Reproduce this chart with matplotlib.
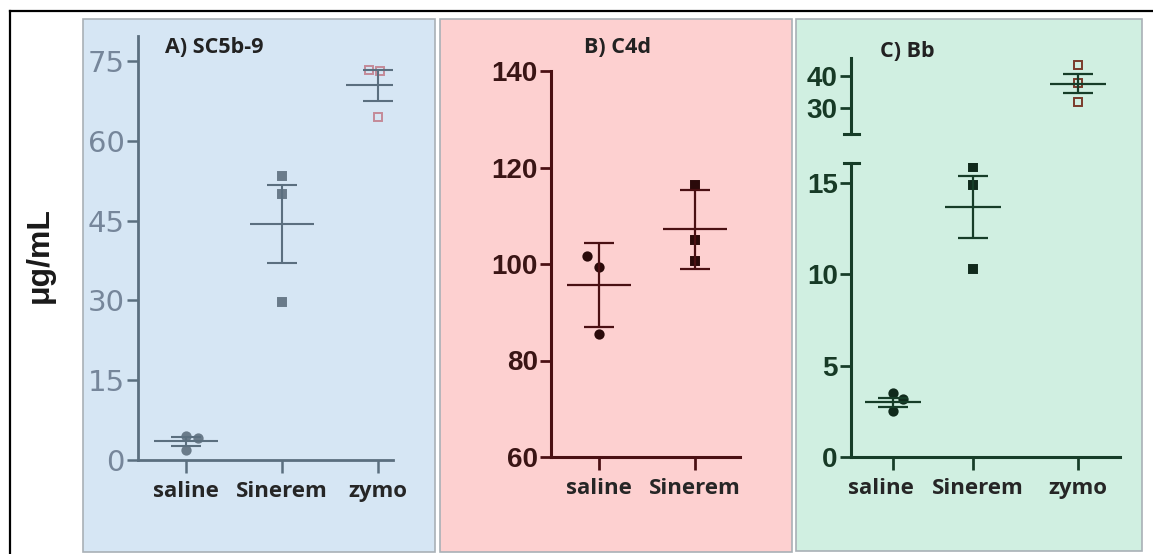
import matplotlib
matplotlib.use("Agg")
import matplotlib.pyplot as plt
from matplotlib.patches import Rectangle
from matplotlib.lines import Line2D

# ---------------- data ----------------
A_categories = ["saline", "Sinerem", "zymo"]
A_saline = [4.6, 4.1, 1.9]
A_sinerem = [53.4, 50.0, 29.7]
A_zymo = [73.4, 73.2, 64.5]
A_mean = [3.5, 44.4, 70.4]
A_err = [0.8, 7.3, 3.0]
A_yticks = [0, 15, 30, 45, 60, 75]

B_categories = ["saline", "Sinerem"]
B_saline = [101.7, 99.4, 85.5]
B_sinerem = [116.4, 105.0, 100.6]
B_mean = [95.6, 107.2]
B_err = [8.7, 8.2]
B_yticks = [60, 80, 100, 120, 140]

C_categories = ["saline", "Sinerem", "zymo"]
C_saline = [3.5, 3.2, 2.5]
C_sinerem = [15.9, 14.9, 10.3]
C_zymo = [43.4, 37.8, 31.9]
C_mean = [3.0, 13.7, 37.6]
C_err = [0.25, 1.7, 3.0]
C_yticks_low = [0, 5, 10, 15]
C_yticks_high = [30, 40]

# ---------------- layout helpers ----------------
W, H = 1153, 554
fig = plt.figure(figsize=(W / 100, H / 100), dpi=100)
fig.patch.set_facecolor("white")


def rect(x0, y0, x1, y1):
    return [x0 / W, 1 - y1 / H, (x1 - x0) / W, (y1 - y0) / H]


def panel_bg(x0, y0, x1, y1, color):
    fig.patches.append(Rectangle((x0 / W, 1 - y1 / H), (x1 - x0) / W, (y1 - y0) / H,
                                 transform=fig.transFigure, facecolor=color,
                                 edgecolor="#a9b0b6", linewidth=1.2, zorder=-5))


# outer frame lines (top and left)
fig.add_artist(Line2D([10 / W, 1], [1 - 11 / H, 1 - 11 / H], color="black", lw=1.6,
                      transform=fig.transFigure))
fig.add_artist(Line2D([10 / W, 10 / W], [0, 1 - 11 / H], color="black", lw=1.6,
                      transform=fig.transFigure))

panel_bg(83, 19, 435, 552, "#d6e6f4")
panel_bg(440, 19, 792, 552, "#fdd0d0")
panel_bg(796, 19, 1142, 551, "#d0efe1")

CAT_FONT = dict(family="Open Sans", weight="bold", size=16)
TITLE_FONT = dict(family="Open Sans", weight="bold", size=15.5)
NARROW = ["Liberation Sans Narrow", "Liberation Sans"]


def style_axes(ax, ticks, color, tickcolor, lw, tickfam, ticksize, tickweight="normal"):
    ax.set_facecolor("none")
    for s in ["top", "right"]:
        ax.spines[s].set_visible(False)
    for s in ["left", "bottom"]:
        ax.spines[s].set_color(color)
        ax.spines[s].set_linewidth(lw)
    ax.set_yticks(ticks)
    ax.set_yticklabels([str(t) for t in ticks], family=tickfam, size=ticksize,
                       color=tickcolor, weight=tickweight)
    ax.tick_params(axis="y", length=8, width=lw * 0.9, color=color, pad=1.5)
    ax.tick_params(axis="x", length=9, width=lw * 0.9, color=color, pad=6,
                   labelcolor="#262626")


def draw_group(ax, x, pts, jit, mean, err, color, marker, ms, mfc, mec,
               half_mean, capsize, lw):
    for p, j in zip(pts, jit):
        ax.plot(x + j, p, marker=marker, ms=ms, mfc=mfc, mec=mec, mew=1.4,
                linestyle="none", zorder=3)
    ax.hlines(mean, x - half_mean, x + half_mean, colors=color, lw=lw, zorder=4)
    ax.errorbar([x], [mean], yerr=[err], fmt="none", ecolor=color, elinewidth=lw,
                capsize=capsize, capthick=lw, zorder=4)


# ---------------- Panel A ----------------
axA = fig.add_axes(rect(138, 36, 393, 460))
A_col = "#5b6f7f"
A_pt = "#6a7b8a"
A_x = [1, 2, 3]
axA.set_xlim(0.5, 3.156)
axA.set_ylim(0, 79.7)
axA.set_xticks(A_x)
axA.set_xticklabels(A_categories, **CAT_FONT)
style_axes(axA, A_yticks, A_col, "#76869a", 2.0, "DejaVu Sans", 21)
draw_group(axA, A_x[0], A_saline, [0, 0.12, 0], A_mean[0], A_err[0], A_col, "o", 6,
           A_pt, A_pt, 0.33, 11, 1.5)
draw_group(axA, A_x[1], A_sinerem, [0, 0, 0], A_mean[1], A_err[1], A_col, "s", 5.5,
           A_pt, A_pt, 0.33, 11, 1.5)
draw_group(axA, A_x[2], A_zymo, [-0.09, 0.02, 0], A_mean[2], A_err[2], A_col, "s", 5.5,
           "none", "#c48a98", 0.33, 11, 1.5)
axA.text(0.106, 0.972, "A) SC5b-9", transform=axA.transAxes, color="#222222",
         ha="left", va="center", **TITLE_FONT)

# ---------------- Panel B ----------------
axB = fig.add_axes(rect(551, 71, 740, 457))
B_col = "#4a1013"
B_x = [1, 2]
axB.set_xlim(0.5, 2.47)
axB.set_ylim(60, 140)
axB.set_xticks(B_x)
axB.set_xticklabels(B_categories, **CAT_FONT)
style_axes(axB, B_yticks, B_col, "#3a1515", 2.2, NARROW, 20, "bold")
draw_group(axB, B_x[0], B_saline, [-0.12, 0, 0], B_mean[0], B_err[0], B_col, "o", 6,
           "#2a0a0a", "#2a0a0a", 0.33, 11, 1.6)
draw_group(axB, B_x[1], B_sinerem, [0, 0, 0], B_mean[1], B_err[1], B_col, "s", 6,
           "#2a0a0a", "#2a0a0a", 0.33, 11, 1.6)
axB.text(0.354, 1.06, "B) C4d", transform=axB.transAxes, color="#222222",
         ha="center", va="center", **TITLE_FONT)

# ---------------- Panel C (broken axis) ----------------
C_col = "#163d28"
C_x = [1, 2, 3.31]
C_label_shift = [-0.15, 0.06, 0.0]   # labels sit slightly off their ticks in the original
axC = fig.add_axes(rect(851, 163, 1120, 457))
axCt = fig.add_axes(rect(851, 58, 1120, 134))
for ax in (axC, axCt):
    ax.set_xlim(0.475, 3.84)
axC.set_ylim(0, 16.1)
axCt.set_ylim(21.9, 45.6)
axC.xaxis.remove_overlapping_locs = False
axC.set_xticks(C_x)
axC.set_xticklabels([""] * len(C_x))
axC.set_xticks([x + s for x, s in zip(C_x, C_label_shift)], minor=True)
axC.set_xticklabels(C_categories, minor=True, **CAT_FONT)
style_axes(axC, C_yticks_low, C_col, "#173a26", 2.2, NARROW, 20, "bold")
axC.tick_params(axis="x", which="minor", length=0, pad=15, labelcolor="#262626")
style_axes(axCt, C_yticks_high, C_col, "#173a26", 2.2, NARROW, 20, "bold")
axCt.spines["bottom"].set_visible(False)
axCt.set_xticks([])
# break caps
axC.add_line(Line2D([-0.025, 0.03], [1, 1], transform=axC.transAxes, color=C_col,
                    lw=2.2, clip_on=False))
axCt.add_line(Line2D([-0.025, 0.03], [0, 0], transform=axCt.transAxes, color=C_col,
                     lw=2.2, clip_on=False))
groups = [(C_saline, [0, 0.12, 0], "o", "#102a1c", "#102a1c"),
          (C_sinerem, [0, 0, 0], "s", "#102a1c", "#102a1c"),
          (C_zymo, [0, 0, 0], "s", "none", "#7a3b2b")]
for i, (pts, jit, mk, fc, ec) in enumerate(groups):
    target = axCt if C_mean[i] > 20 else axC
    draw_group(target, C_x[i], pts, jit, C_mean[i], C_err[i], C_col, mk, 6, fc, ec,
               0.35, 10.5, 1.6)
axCt.text(0.108, 1.08, "C) Bb", transform=axCt.transAxes, color="#222222",
          ha="left", va="center", **TITLE_FONT)

# ---------------- y label ----------------
fig.text(40 / W, 1 - 255 / H, "μg/mL", rotation=90, ha="center", va="center",
         family="Liberation Sans", weight="bold", size=23, color="#1a1a1a")

fig.savefig("out.png", dpi=100)
